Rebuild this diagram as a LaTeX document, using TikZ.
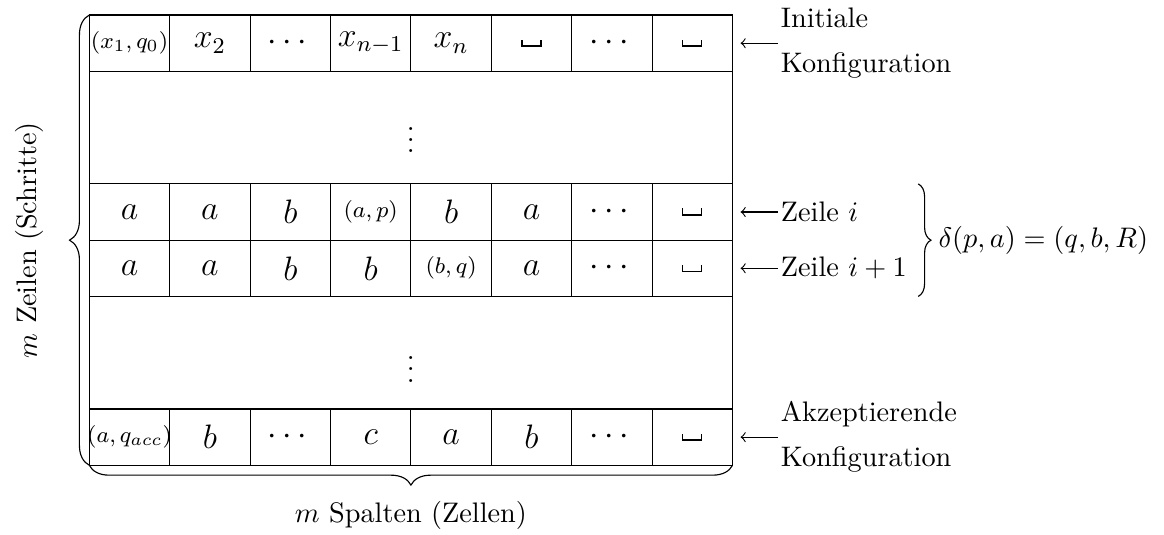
\documentclass[tikz,border=0pt]{standalone}
\usepackage{amsmath}
\usepackage{amssymb}
\usetikzlibrary{decorations.pathreplacing}
\newcommand{\tup}[1]{{\footnotesize$#1$}}
\newcommand{\dts}{$\cdots$}
\newcommand{\blk}{\mbox{\vrule height 2.5pt width 0.45pt\vbox{\hrule width 6.3pt height 0.45pt}\vrule height 2.5pt width 0.45pt}}
\tikzset{
  cell/.style={font=\large, inner sep=0pt},
  lbl/.style={anchor=west, inner sep=1pt, align=left},
  brc/.style={decorate, decoration={brace, amplitude=#1}},
}

\begin{document}
\begin{tikzpicture}
    \useasboundingbox (-1.111,0.187) rectangle (13.367,-6.455);
    \draw (0,0) rectangle (8,-5.6);
    \foreach \y in {-0.7,-2.1,-2.8,-3.5,-4.9}
      \draw (0,\y) -- (8,\y);
    \foreach \x in {1,...,7} {
      \draw (\x,0) -- (\x,-0.7);
      \draw (\x,-2.1) -- (\x,-3.5);
      \draw (\x,-4.9) -- (\x,-5.6);
    }
    \foreach \t [count=\i] in {\tup{(x_1,q_0)}, $x_2$, \dts, $x_{n-1}$, $x_n$, \blk, \dts, \blk}
      \node[cell] (ra\i) at (\i-0.5,-0.35) {\t};
    \foreach \t [count=\i] in {$a$, $a$, $b$, \tup{(a,p)}, $b$, $a$, \dts, \blk}
      \node[cell] (rb\i) at (\i-0.5,-2.45) {\t};
    \foreach \t [count=\i] in {$a$, $a$, $b$, $b$, \tup{(b,q)}, $a$, \dts, \blk}
      \node[cell] (rc\i) at (\i-0.5,-3.15) {\t};
    \foreach \t [count=\i] in {\tup{(a,q_{acc})}, $b$, \dts, $c$, $a$, $b$, \dts, \blk}
      \node[cell] (rd\i) at (\i-0.5,-5.25) {\t};
    \node (va) at (4,-1.45) {$\vdots$};
    \node (vb) at (4,-4.3) {$\vdots$};

    \coordinate (pa) at (8.1,-0.35);
    \coordinate (pb) at (8.1,-2.45);
    \coordinate (pc) at (8.1,-3.15);
    \coordinate (pd) at (8.1,-5.25);
    \node[lbl] (init) at (8.56,-0.35) {Initiale\\[4pt]Konfiguration};
    \node[lbl] (zi) at (8.56,-2.45) {Zeile $i$};
    \node[lbl] (zj) at (8.56,-3.15) {Zeile $i+1$};
    \node[lbl] (acc) at (8.56,-5.25) {Akzeptierende\\[4pt]Konfiguration};
    \draw [<-] (pa) -- (init.west);
    \draw [<-] (pb) -- (zi.west);
    \draw [<-] (pc) -- (zj.west);
    \draw [<-] (pd) -- (acc.west);

    \draw [brc=7pt] (0,-5.6) -- (0,0);
    \draw [brc=7pt] (8,-5.6) -- (0,-5.6);
    \draw [brc=4.5pt] (10.31,-2.1) -- (10.31,-3.5);
    \node[rotate=90] (rows) at (-0.74,-2.8) {$m$ Zeilen (Schritte)};
    \node (cols) at (4,-6.23) {$m$ Spalten (Zellen)};
    \node[lbl] (delta) at (10.52,-2.8) {$\delta(p,a)=(q,b,R)$};
  \end{tikzpicture}
\end{document}
